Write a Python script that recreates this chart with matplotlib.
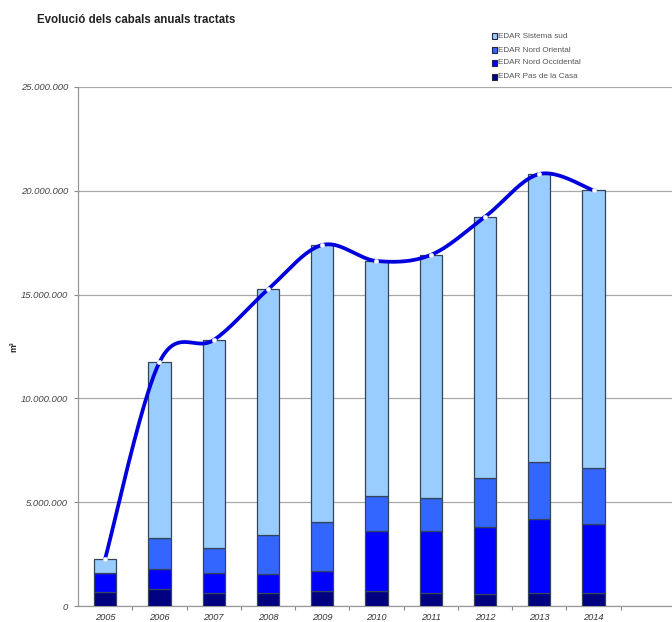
import matplotlib
matplotlib.use("Agg")
import matplotlib.pyplot as plt
import numpy as np
from matplotlib.patches import Rectangle
from matplotlib.ticker import FuncFormatter, FixedLocator

plt.rcParams['font.family'] = ['Liberation Sans', 'DejaVu Sans']

years = ['2005', '2006', '2007', '2008', '2009', '2010', '2011', '2012', '2013', '2014']
pas_de_la_casa  = [660000, 830000, 610000, 610000, 740000, 720000, 630000, 590000, 630000, 630000]
nord_occidental = [920000, 940000, 990000, 920000, 960000, 2890000, 2970000, 3200000, 3580000, 3340000]
nord_oriental   = [0, 1490000, 1210000, 1880000, 2330000, 1670000, 1620000, 2390000, 2740000, 2690000]
sistema_sud     = [700000, 8480000, 10000000, 11840000, 13360000, 11340000, 11690000, 12570000, 13860000, 13360000]

series_names = ['EDAR Sistema sud', 'EDAR Nord Oriental', 'EDAR Nord Occidental', 'EDAR Pas de la Casa']
colors = {'EDAR Sistema sud': '#99CCFF', 'EDAR Nord Oriental': '#3366FF',
          'EDAR Nord Occidental': '#0000FF', 'EDAR Pas de la Casa': '#000080'}

fig = plt.figure(figsize=(6.72, 6.22), dpi=100)
ax = fig.add_axes([78/672, 1-606/622, 597/672, (606-87)/622])

x = np.arange(len(years))
stack = [('EDAR Pas de la Casa', pas_de_la_casa), ('EDAR Nord Occidental', nord_occidental),
         ('EDAR Nord Oriental', nord_oriental), ('EDAR Sistema sud', sistema_sud)]
bottom = np.zeros(len(years))
for name, vals in stack:
    vals = np.array(vals, dtype=float)
    ax.bar(x, vals, bottom=bottom, width=0.41, color=colors[name],
           edgecolor='#34455a', linewidth=0.9, zorder=3)
    bottom = bottom + vals
totals = bottom

# smoothed line (Excel-style Bezier smoothing) through totals
px = x.astype(float)
py = totals
cx, cy = [], []
n = len(px)
for i in range(n - 1):
    p0 = (px[i], py[i]); p1 = (px[i+1], py[i+1])
    pm = (px[i-1], py[i-1]) if i > 0 else p0
    pp = (px[i+2], py[i+2]) if i + 2 < n else p1
    c1 = (p0[0] + (p1[0]-pm[0])/6, p0[1] + (p1[1]-pm[1])/6)
    c2 = (p1[0] - (pp[0]-p0[0])/6, p1[1] - (pp[1]-p0[1])/6)
    t = np.linspace(0, 1, 40)
    bx = (1-t)**3*p0[0] + 3*(1-t)**2*t*c1[0] + 3*(1-t)*t**2*c2[0] + t**3*p1[0]
    by = (1-t)**3*p0[1] + 3*(1-t)**2*t*c1[1] + 3*(1-t)*t**2*c2[1] + t**3*p1[1]
    cx.extend(bx); cy.extend(by)
ax.plot(cx, cy, color='#0000DD', linewidth=2.7, zorder=4, solid_capstyle='round')
ax.plot(px, py, linestyle='none', marker='o', markersize=3.2, markerfacecolor='white',
        markeredgecolor='#c8d0ff', markeredgewidth=0.5, zorder=5)

ax.set_xlim(-0.5, 10.5)
ax.set_ylim(0, 25000000)
ax.set_yticks(np.arange(0, 25000001, 5000000))
ax.yaxis.set_major_formatter(FuncFormatter(lambda v, p: f"{int(v):,}".replace(',', '.')))
ax.set_xticks(x)
ax.set_xticklabels(years)
ax.xaxis.set_minor_locator(FixedLocator(np.arange(0.5, 10.5, 1.0)))
ax.tick_params(axis='x', which='major', length=0, pad=5, labelsize=6.7, labelcolor='#333333')
ax.tick_params(axis='x', which='minor', length=3, color='#888888', width=0.8)
ax.tick_params(axis='y', length=3, color='#888888', width=0.8, pad=4, labelsize=6.8, labelcolor='#444444')
for lab in ax.get_xticklabels() + ax.get_yticklabels():
    lab.set_fontstyle('italic')

ax.grid(axis='y', color='#a8a8a8', linewidth=0.9, zorder=0)
ax.set_axisbelow(True)
for s in ['top', 'right']:
    ax.spines[s].set_visible(False)
for s in ['left', 'bottom']:
    ax.spines[s].set_color('#999999')
    ax.spines[s].set_linewidth(0.9)

fig.text(14/672, 1-347/622, 'm³', rotation=90, fontsize=6.2, fontweight='bold',
         ha='center', va='center', color='#222222')
fig.text(37/672, 1-20/622, 'Evolució dels cabals anuals tractats', fontsize=8.3,
         fontweight='bold', ha='left', va='center', color='#222222')

# legend
leg_y = [36, 50, 63, 77]
for name, yy in zip(series_names, leg_y):
    fig.patches.append(Rectangle((492/672, 1-(yy+2.5)/622), 5/672, 5/622,
                                 transform=fig.transFigure, facecolor=colors[name],
                                 edgecolor='#222244', linewidth=0.8))
    fig.text(498/672, 1-yy/622, name, fontsize=5.9, ha='left', va='center', color='#555555')

fig.savefig('out.png', dpi=100)
